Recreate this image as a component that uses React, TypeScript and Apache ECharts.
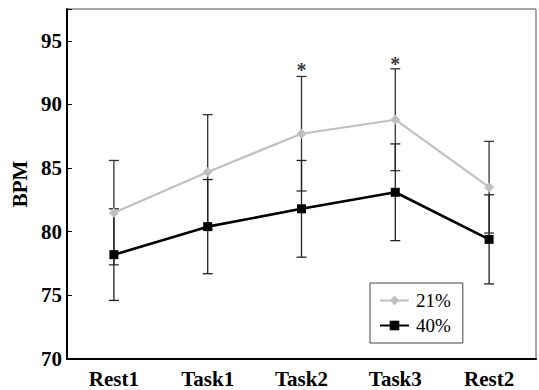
import React, { useEffect, useRef } from "react";
import * as echarts from "echarts";

const categories = ["Rest1", "Task1", "Task2", "Task3", "Rest2"];
const seriesNames = ["21%", "40%"];
const mean21 = [81.5, 84.7, 87.7, 88.8, 83.5];
const err21 = [4.1, 4.5, 4.5, 4.0, 3.6];
const mean40 = [78.2, 80.4, 81.8, 83.1, 79.4];
const err40 = [3.6, 3.7, 3.8, 3.8, 3.5];
const starCategories = ["Task2", "Task3"];
const starValues = [92.7, 93.2];
const yTicks = [70, 75, 80, 85, 90, 95];

const FONT = "Liberation Serif, Times New Roman, serif";

function errorSeries(means: number[], errs: number[], color: string, z: number) {
  return {
    type: "custom",
    z,
    silent: true,
    data: categories.map((c, i) => [i, means[i] - errs[i], means[i] + errs[i]]),
    renderItem: (params: any, api: any) => {
      const x = api.value(0);
      const lo = api.coord([x, api.value(1)]);
      const hi = api.coord([x, api.value(2)]);
      const w = 5;
      const style = { stroke: color, lineWidth: 1.3 };
      return {
        type: "group",
        children: [
          { type: "line", shape: { x1: lo[0], y1: lo[1], x2: hi[0], y2: hi[1] }, style },
          { type: "line", shape: { x1: lo[0] - w, y1: lo[1], x2: lo[0] + w, y2: lo[1] }, style },
          { type: "line", shape: { x1: hi[0] - w, y1: hi[1], x2: hi[0] + w, y2: hi[1] }, style },
        ],
      };
    },
  };
}

export default function App() {
  const ref = useRef<HTMLDivElement>(null);
  useEffect(() => {
    if (!ref.current) return;
    const chart = echarts.init(ref.current, null, { renderer: "svg" });
    chart.setOption({
      animation: false,
      backgroundColor: "#fff",
      grid: {
        left: 67,
        right: 3,
        top: 9,
        bottom: 31,
        show: true,
        borderColor: "#555",
        borderWidth: 1,
      },
      legend: {
        left: 370,
        top: 283,
        orient: "vertical",
        backgroundColor: "#fff",
        borderColor: "#444",
        borderWidth: 1,
        borderRadius: 0,
        padding: [8, 12, 8, 9],
        itemWidth: 29,
        itemHeight: 12,
        itemGap: 6,
        textStyle: { fontFamily: FONT, fontSize: 19, color: "#000", padding: [0, 0, 0, 2] },
        data: seriesNames,
      },
      xAxis: {
        type: "category",
        data: categories,
        boundaryGap: true,
        axisLine: { lineStyle: { color: "#000", width: 2 } },
        axisTick: { inside: true, length: 6, lineStyle: { color: "#000", width: 1 } },
        axisLabel: {
          fontFamily: FONT,
          fontSize: 21,
          fontWeight: "bold",
          color: "#000",
          margin: 9,
        },
      },
      yAxis: {
        type: "value",
        min: 70,
        max: 97.5,
        interval: 5,
        name: "BPM",
        nameLocation: "middle",
        nameGap: 36,
        nameTextStyle: { fontFamily: FONT, fontSize: 21, fontWeight: "bold", color: "#000" },
        splitLine: { show: false },
        axisLine: { show: true, lineStyle: { color: "#000", width: 2 } },
        axisTick: { show: true, inside: true, length: 5, lineStyle: { color: "#000", width: 1 } },
        axisLabel: {
          fontFamily: FONT,
          fontSize: 21,
          fontWeight: "bold",
          color: "#000",
          margin: 5,
          formatter: (v: number) => (yTicks.includes(v) ? String(v) : ""),
        },
      },
      series: [
        errorSeries(mean21, err21, "#333", 1),
        errorSeries(mean40, err40, "#222", 1),
        {
          name: seriesNames[0],
          type: "line",
          z: 3,
          data: mean21,
          symbol: "diamond",
          symbolSize: 10,
          lineStyle: { color: "#c0c0c0", width: 2.2 },
          itemStyle: { color: "#c0c0c0" },
        },
        {
          name: seriesNames[1],
          type: "line",
          z: 4,
          data: mean40,
          symbol: "rect",
          symbolSize: 9,
          lineStyle: { color: "#000", width: 2.6 },
          itemStyle: { color: "#000" },
        },
        {
          type: "scatter",
          z: 5,
          silent: true,
          symbolSize: 0,
          data: starCategories.map((c, i) => [c, starValues[i]]),
          label: {
            show: true,
            position: "inside",
            formatter: "*",
            fontFamily: FONT,
            fontSize: 20,
            fontWeight: "bold",
            color: "#000",
          },
        },
      ],
    });
    return () => chart.dispose();
  }, []);
  return (
    <div
      ref={ref}
      style={{ position: "fixed", left: 0, top: 0, width: 539, height: 390 }}
    />
  );
}
